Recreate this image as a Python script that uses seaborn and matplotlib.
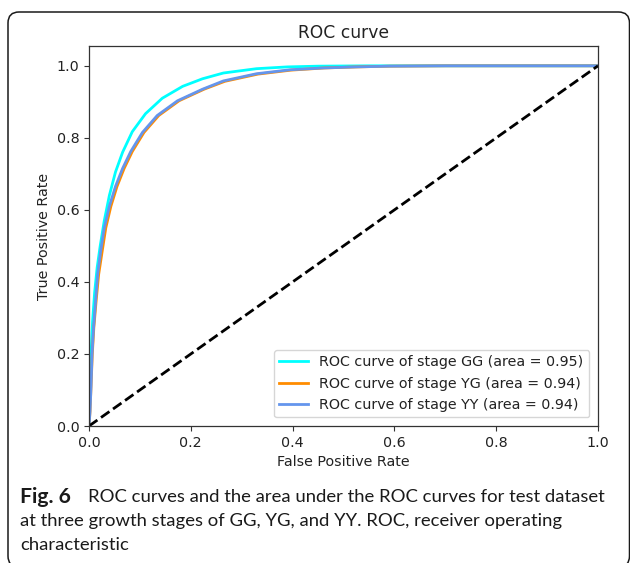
import numpy as np
import pandas as pd
import matplotlib
matplotlib.use("Agg")
import matplotlib.pyplot as plt
import seaborn as sns
from matplotlib.patches import FancyBboxPatch
from matplotlib.transforms import IdentityTransform

# ---------------- data ----------------
stages = ["GG", "YG", "YY"]
areas = [0.95, 0.94, 0.94]
colors = ["aqua", "darkorange", "cornflowerblue"]

fpr_gg = [0.0, 0.002, 0.004, 0.007, 0.011, 0.016, 0.022, 0.030, 0.040, 0.052, 0.066, 0.085,
          0.111, 0.144, 0.184, 0.223, 0.264, 0.329, 0.39, 0.45, 0.55, 1.0]
tpr_gg = [0.0, 0.10, 0.20, 0.29, 0.37, 0.44, 0.50, 0.57, 0.64, 0.705, 0.76, 0.817,
          0.867, 0.910, 0.943, 0.964, 0.980, 0.992, 0.997, 0.999, 1.0, 1.0]

fpr_yg = [0.0, 0.002, 0.004, 0.0065, 0.0095, 0.014, 0.019, 0.026, 0.033, 0.043, 0.055, 0.069, 0.085,
          0.108, 0.137, 0.177, 0.226, 0.267, 0.332, 0.397, 0.462, 0.528, 0.592, 0.70, 1.0]
tpr_yg = [0.0, 0.04, 0.11, 0.20, 0.273, 0.347, 0.421, 0.486, 0.55, 0.61, 0.665, 0.715, 0.762,
          0.815, 0.862, 0.903, 0.935, 0.957, 0.977, 0.988, 0.994, 0.997, 0.999, 1.0, 1.0]

fpr_yy = [0.0, 0.002, 0.004, 0.006, 0.009, 0.013, 0.017, 0.023, 0.030, 0.040, 0.052, 0.066, 0.082,
          0.105, 0.134, 0.174, 0.223, 0.264, 0.329, 0.395, 0.46, 0.526, 0.59, 0.70, 1.0]
tpr_yy = [0.0, 0.04, 0.11, 0.20, 0.273, 0.347, 0.421, 0.486, 0.55, 0.61, 0.665, 0.715, 0.762,
          0.815, 0.862, 0.903, 0.935, 0.958, 0.978, 0.989, 0.994, 0.997, 0.999, 1.0, 1.0]

diag_x = [0.0, 1.0]
diag_y = [0.0, 1.0]

x_ticks = [0.0, 0.2, 0.4, 0.6, 0.8, 1.0]
y_ticks = [0.0, 0.2, 0.4, 0.6, 0.8, 1.0]

caption_bold = "Fig. 6"
caption_line1 = "ROC curves and the area under the ROC curves for test dataset"
caption_line2 = "at three growth stages of GG, YG, and YY. ROC, receiver operating"
caption_line3 = "characteristic"

# ---------------- figure ----------------
W, H = 630, 563
fig = plt.figure(figsize=(W / 100, H / 100), dpi=100)
fig.patch.set_facecolor("white")

ax = fig.add_axes([89 / W, 1 - 426 / H, (598 - 89) / W, (426 - 46) / H])

curves = [(fpr_gg, tpr_gg), (fpr_yg, tpr_yg), (fpr_yy, tpr_yy)]
handles = []
for (fx, ty), st, ar, c in zip(curves, stages, areas, colors):
    df = pd.DataFrame({"fpr": fx, "tpr": ty})
    sns.lineplot(data=df, x="fpr", y="tpr", sort=False, estimator=None,
                 color=c, lw=2, ax=ax)
    handles.append(ax.lines[-1])

df_d = pd.DataFrame({"x": diag_x, "y": diag_y})
sns.lineplot(data=df_d, x="x", y="y", sort=False, estimator=None,
             color="black", lw=2, linestyle="--", ax=ax)

ax.set_xlim(0.0, 1.0)
ax.set_ylim(0.0, 1.055)
ax.set_xticks(x_ticks)
ax.set_yticks(y_ticks)
ax.set_xticklabels([f"{v:.1f}" for v in x_ticks])
ax.set_yticklabels([f"{v:.1f}" for v in y_ticks])
ax.tick_params(labelsize=10.3, length=3.5, width=0.8, color="#333333", labelcolor="#222222")
for s in ax.spines.values():
    s.set_color("#333333")
    s.set_linewidth(0.9)

ax.set_xlabel("False Positive Rate", fontsize=10.3, color="#222222")
ax.set_ylabel("True Positive Rate", fontsize=10.3, color="#222222")
ax.set_title("ROC curve", fontsize=12.3, color="#222222")

labels = [f"ROC curve of stage {s} (area = {a:.2f})" for s, a in zip(stages, areas)]
ax.legend(handles, labels, loc="lower right", fontsize=10.3, labelcolor="#222222",
          borderaxespad=0.6)

# ---------------- outer frame ----------------
frame = FancyBboxPatch((8, -4), 629.5 - 8, 555,
                       boxstyle="round,pad=0,rounding_size=11",
                       transform=IdentityTransform(), fill=False,
                       edgecolor="#1a1a1a", linewidth=1.1)
fig.patches.append(frame)

# ---------------- caption ----------------
cap_font = "Lato"
cap_size = 13.3
fig.text(20 / W, 1 - 497 / H, caption_bold, fontsize=15.2, fontweight="bold",
         family=cap_font, va="center", ha="left", color="#1a1a1a")
fig.text(88 / W, 1 - 497 / H, caption_line1, fontsize=cap_size,
         family=cap_font, va="center", ha="left", color="#1a1a1a")
fig.text(20 / W, 1 - 521 / H, caption_line2, fontsize=cap_size,
         family=cap_font, va="center", ha="left", color="#1a1a1a")
fig.text(20 / W, 1 - 545 / H, caption_line3, fontsize=cap_size,
         family=cap_font, va="center", ha="left", color="#1a1a1a")

fig.savefig("out.png", dpi=100)
